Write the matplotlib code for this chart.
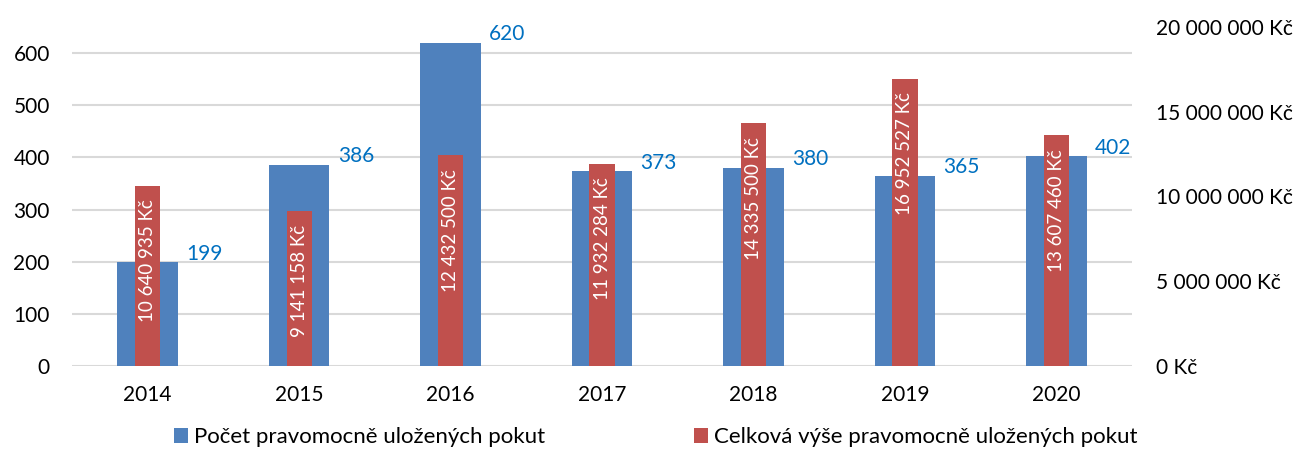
import numpy as np
import matplotlib.pyplot as plt
from matplotlib.ticker import FuncFormatter

plt.rcParams['font.family'] = ['Lato', 'DejaVu Sans']

# --- data ---
years = ['2014', '2015', '2016', '2017', '2018', '2019', '2020']
counts = [199, 386, 620, 373, 380, 365, 402]
amounts = [10640935, 9141158, 12432500, 11932284, 14335500, 16952527, 13607460]
count_label = 'Počet pravomocně uložených pokut'
amount_label = 'Celková výše pravomocně uložených pokut'

blue = '#4F81BD'
red = '#C0504D'
lbl_blue = '#0070C0'
fs = 15


def kc(v):
    return f"{int(round(v)):,}".replace(',', ' ') + ' Kč'


fig = plt.figure(figsize=(12.93, 4.5), dpi=100)
ax = fig.add_axes([0.0557, 0.1867, 0.8198, 0.7533])
ax2 = ax.twinx()

x = np.arange(len(years))
b1 = ax.bar(x, counts, width=0.4, color=blue, label=count_label, zorder=2)
b2 = ax2.bar(x, amounts, width=0.167, color=red, label=amount_label, zorder=2)

# count labels to the right of the blue bars
for xi, v in zip(x, counts):
    ax.annotate(str(v), (xi + 0.2, v), xytext=(6, 6), textcoords='offset points',
                ha='left', va='center', color=lbl_blue, fontsize=fs)

# amount labels inside the red bars, near the top end
for xi, v in zip(x, amounts):
    ax2.annotate(kc(v), (xi, v), xytext=(0, -10), textcoords='offset points',
                 rotation=90, ha='center', va='top', color='white', fontsize=13.5)

ax.set_xlim(-0.5, len(years) - 0.5)
ax.set_ylim(0, 650)
ax2.set_ylim(0, 20000000)
ax.set_yticks(range(0, 601, 100))
ax2.set_yticks(range(0, 20000001, 5000000))
ax2.yaxis.set_major_formatter(FuncFormatter(lambda v, p: kc(v)))
ax.set_xticks(x)
ax.set_xticklabels(years)

ax.grid(axis='y', color='#D9D9D9', linewidth=1.5)
ax.set_axisbelow(True)
for a in (ax, ax2):
    for s in a.spines.values():
        s.set_visible(False)
ax.tick_params(axis='y', length=0, pad=16, labelsize=fs, colors='black')
ax.tick_params(axis='x', length=0, pad=14, labelsize=fs)
ax2.tick_params(axis='y', length=0, pad=17, labelsize=fs)

fig.legend(handles=[b1, b2], labels=[count_label, amount_label],
           loc='lower center', bbox_to_anchor=(0.507, -0.038), ncol=2,
           frameon=False, fontsize=16, handlelength=0.65, handleheight=0.65,
           handletextpad=0.25, columnspacing=6.7)

fig.savefig('out.png', dpi=100)
